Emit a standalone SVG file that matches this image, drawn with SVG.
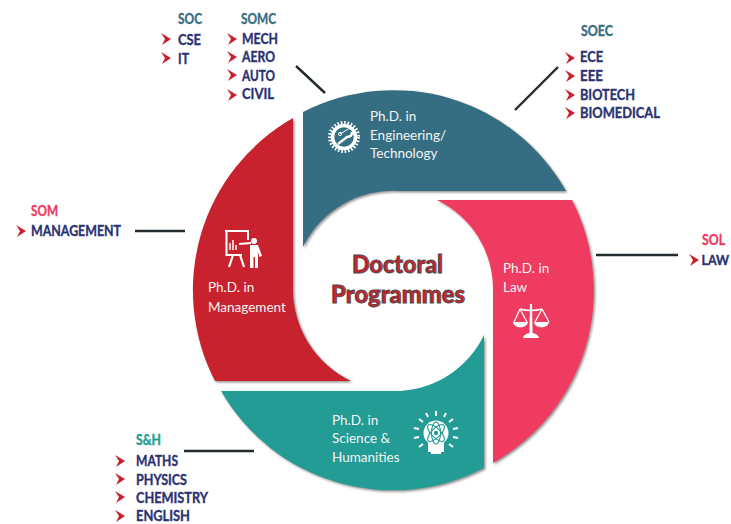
<svg xmlns="http://www.w3.org/2000/svg" width="731" height="524" viewBox="0 0 731 524">
<defs>
<filter id="sh" x="-5%" y="-5%" width="110%" height="110%"><feDropShadow dx="1.5" dy="1.5" stdDeviation="0.8" flood-color="#777" flood-opacity="0.8"/></filter>
<path id="chev" d="M0 0 L10 6 L1 12 L4 6 Z" fill="#c8202e"/>
</defs>
<style>
text{font-family:"Lato","Liberation Sans",sans-serif}
.ph{font-size:13.5px;fill:#f4f4f4}
.hd,.it{font-size:14.5px;font-weight:700;stroke-width:.35px}
.it{fill:#2a3272;stroke:#2a3272}
.teal{fill:#356e82;stroke:#356e82}
.pink{fill:#ef3b5e;stroke:#ef3b5e}
.green{fill:#239c94;stroke:#239c94}
.t{font-size:24px;font-weight:900;fill:#c8232e;stroke:#4a4a4a;stroke-width:.9px;text-anchor:middle}
.w{fill:none;stroke:#fff}
.f{fill:#fff}
.c{stroke:#222b2e;stroke-width:2.4;fill:none}
</style>
<rect width="731" height="524" fill="#fff"/>
<g id="connectors">
<path class="c" d="M296 66L325 93"/>
<path class="c" d="M558 67L515 110"/>
<path class="c" d="M596 255H678"/>
<path class="c" d="M135 231H185"/>
<path class="c" d="M184 451H254"/>
</g>
<g id="node-engineering">
<path fill="#356e82" filter="url(#sh)" d="M303 112 A198 198 0 0 1 566 191 H400 A100 100 0 0 0 303 247 Z"/>
<text class="ph" x="370" y="121">Ph.D. in</text><text class="ph" x="370" y="140">Engineering/</text><text class="ph" x="370" y="158">Technology</text>
<circle class="w" cx="344" cy="137" r="11.5" stroke-width="3.5"/><circle class="w" cx="344" cy="137" r="14.5" stroke-width="3" stroke-dasharray="1.6 1.8"/>
<path class="w" stroke-width="2.4" d="M338 144L347 137C350 137 352 135 352 132"/>
<path class="w" stroke-width="1" d="M340 134L350 128"/>
<circle class="w" stroke-width="1" cx="340" cy="134" r="1.6"/>
</g>
<g id="node-law">
<path fill="#ef3b5e" filter="url(#sh)" d="M437 200 H572 A198 198 0 0 1 493 463 V290 A99 99 0 0 0 437 200 Z"/>
<text class="ph" x="503" y="273">Ph.D. in</text><text class="ph" x="503" y="292">Law</text>
<path class="f" d="M530 304H532L532.6 334H529.4Z"/>
<path class="w" stroke-width="1.3" d="M520 309Q531 312 542 309M520 309L514 322M520 309L527 322M542 309L535 322M542 309L549 322"/>
<path class="f" d="M513 322H528C527 329 514 329 513 322ZM534 322H549C548 329 535 329 534 322ZM523 338H539C538 334 534 333 531 333C528 333 524 334 523 338Z"/>
</g>
<g id="node-science">
<path fill="#239c94" filter="url(#sh)" d="M221 391 H400 A99 99 0 0 0 484 335 V468 A198 198 0 0 1 221 391 Z"/>
<text class="ph" x="332" y="425">Ph.D. in</text><text class="ph" x="332" y="443">Science &amp;</text><text class="ph" x="332" y="462">Humanities</text>
<path class="f" d="M428 442H444V452H441V454H431V452H428Z"/><circle class="f" cx="436" cy="433" r="12.5"/>
<g fill="none" stroke="#239c94" stroke-width="1.1"><ellipse cx="436" cy="433" rx="11" ry="4.5" transform="rotate(45 436 433)"/><ellipse cx="436" cy="433" rx="11" ry="4.5" transform="rotate(-45 436 433)"/><ellipse cx="436" cy="433" rx="4.5" ry="11"/></g>
<circle cx="436" cy="433" r="2.2" fill="#239c94"/>
<path class="w" stroke-width="2" d="M436 411V416M426 413L428 417M446 413L444 417M419 419L423 422M453 419L449 422M414 428L419 429M458 428L453 429M414 438L419 437M458 438L453 437M419 447L423 444M453 447L449 444"/>
</g>
<g id="node-management">
<path fill="#c8222f" filter="url(#sh)" d="M293 118 V290 A102 102 0 0 0 351 381 H215 A198 198 0 0 1 293 118 Z"/>
<text class="ph" x="208" y="292">Ph.D. in</text><text class="ph" x="208" y="312">Management</text>
<path class="w" stroke-width="2" d="M225 231H249M226.5 231V255H242M248 232V240"/>
<path class="w" stroke-width="1.5" d="M230 250V243M233 250V240M236 250V245"/>
<path class="w" stroke-width="2.2" d="M233 255L229 267M240 255L244 267M239 244L251 243"/>
<circle class="f" cx="254" cy="241" r="3"/>
<path class="f" d="M250 245H258L262 256L259.5 257L258 252V268H255V257H253.5V268H250Z"/>
</g>
<g id="center"><text class="t" x="397.5" y="273" textLength="91" lengthAdjust="spacingAndGlyphs">Doctoral</text><text class="t" x="398" y="303" textLength="134" lengthAdjust="spacingAndGlyphs">Programmes</text></g>
<g id="soc"><text class="hd teal" x="178" y="24" textLength="24" lengthAdjust="spacingAndGlyphs">SOC</text>
<use href="#chev" x="161" y="33"/><text class="it" x="178" y="45" textLength="23" lengthAdjust="spacingAndGlyphs">CSE</text>
<use href="#chev" x="161" y="52"/><text class="it" x="178" y="64" textLength="11" lengthAdjust="spacingAndGlyphs">IT</text></g>
<g id="somc"><text class="hd teal" x="241" y="24" textLength="35" lengthAdjust="spacingAndGlyphs">SOMC</text>
<use href="#chev" x="227" y="33"/><text class="it" x="242" y="44" textLength="36" lengthAdjust="spacingAndGlyphs">MECH</text>
<use href="#chev" x="227" y="51"/><text class="it" x="242" y="62" textLength="33" lengthAdjust="spacingAndGlyphs">AERO</text>
<use href="#chev" x="227" y="69"/><text class="it" x="242" y="81" textLength="33" lengthAdjust="spacingAndGlyphs">AUTO</text>
<use href="#chev" x="227" y="89"/><text class="it" x="242" y="99" textLength="32" lengthAdjust="spacingAndGlyphs">CIVIL</text></g>
<g id="soec"><text class="hd teal" x="581" y="36" textLength="32" lengthAdjust="spacingAndGlyphs">SOEC</text>
<use href="#chev" x="565" y="52"/><text class="it" x="580" y="62" textLength="23" lengthAdjust="spacingAndGlyphs">ECE</text>
<use href="#chev" x="565" y="70"/><text class="it" x="580" y="81" textLength="23" lengthAdjust="spacingAndGlyphs">EEE</text>
<use href="#chev" x="565" y="89"/><text class="it" x="580" y="100" textLength="55" lengthAdjust="spacingAndGlyphs">BIOTECH</text>
<use href="#chev" x="565" y="107"/><text class="it" x="580" y="118" textLength="80" lengthAdjust="spacingAndGlyphs">BIOMEDICAL</text></g>
<g id="sol"><text class="hd pink" x="702" y="245" textLength="23" lengthAdjust="spacingAndGlyphs">SOL</text>
<use href="#chev" x="689" y="254"/><text class="it" style="font-size:13px" x="701.5" y="265" textLength="27.5" lengthAdjust="spacingAndGlyphs">LAW</text></g>
<g id="som"><text class="hd pink" x="31" y="216" textLength="27" lengthAdjust="spacingAndGlyphs">SOM</text>
<use href="#chev" x="16" y="225"/><text class="it" x="31" y="236" textLength="90" lengthAdjust="spacingAndGlyphs">MANAGEMENT</text></g>
<g id="sh"><text class="hd green" x="136" y="445" textLength="25" lengthAdjust="spacingAndGlyphs">S&amp;H</text>
<use href="#chev" x="115" y="455"/><text class="it" x="136" y="466" textLength="42" lengthAdjust="spacingAndGlyphs">MATHS</text>
<use href="#chev" x="115" y="473"/><text class="it" x="136" y="485" textLength="51" lengthAdjust="spacingAndGlyphs">PHYSICS</text>
<use href="#chev" x="115" y="491"/><text class="it" x="136" y="503" textLength="72" lengthAdjust="spacingAndGlyphs">CHEMISTRY</text>
<use href="#chev" x="115" y="510"/><text class="it" x="136" y="520.5" textLength="54" lengthAdjust="spacingAndGlyphs">ENGLISH</text></g>
</svg>
